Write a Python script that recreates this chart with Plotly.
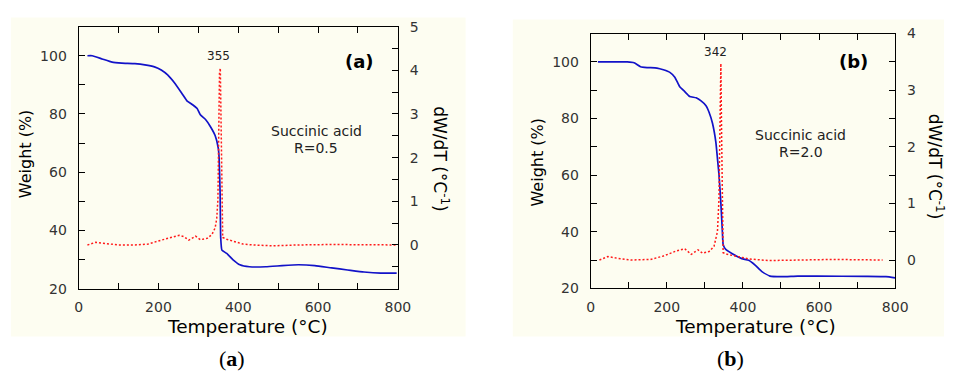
import plotly.graph_objects as go

# ---- Panel (a): succinic acid, R = 0.5 ----
temp_a_w = [22, 34, 59, 84, 108, 141, 166, 190, 207, 223, 240, 260, 272, 281, 297, 305, 318,
            330, 342, 350, 352, 354.5, 356, 359, 371, 387, 404, 428, 469, 510, 551, 592, 634,
            674, 715, 757, 797]
weight_a = [100, 100, 98.9, 97.8, 97.5, 97.3, 96.9, 96.2, 95.1, 93.4, 90.7, 86.8, 84.4, 83.6,
            81.9, 79.7, 78.1, 75.7, 72.6, 68.2, 64.9, 52.9, 37.5, 33.2, 32.1, 29.9, 28.2, 27.5,
            27.5, 27.9, 28.2, 27.9, 27.1, 26.4, 25.7, 25.3, 25.3]
temp_a_d = [22, 43, 59, 100, 141, 174, 207, 231, 252, 264, 276, 293, 305, 322, 334, 342, 346,
            349, 350, 353, 355, 357, 359, 361, 371, 387, 412, 437, 486, 551, 634, 797]
dtg_a = [0.0, 0.06, 0.04, 0.0, 0.0, 0.02, 0.11, 0.17, 0.22, 0.19, 0.11, 0.2, 0.12, 0.15, 0.24,
         0.39, 0.6, 1.04, 2.13, 3.95, 4.05, 2.5, 1.04, 0.17, 0.13, 0.09, 0.02, 0.0, -0.02, 0.0,
         0.01, 0.0]

# ---- Panel (b): succinic acid, R = 2.0 ----
temp_b_w = [19, 96, 114, 131, 148, 174, 191, 208, 221, 234, 247, 260, 277, 290, 303, 311, 320,
            329, 333, 337, 342, 346, 348, 354, 372, 397, 415, 432, 449, 471, 501, 544, 595,
            724, 776, 800]
weight_b = [100, 100, 99.7, 98.3, 98.0, 97.8, 97.2, 96.3, 94.6, 91.2, 89.5, 87.8, 87.3, 86.2,
            84.5, 82.2, 78.3, 71.5, 65.9, 60.3, 50.2, 40.0, 35.5, 33.9, 32.2, 30.5, 29.9, 28.2,
            26.0, 24.3, 24.1, 24.3, 24.3, 24.2, 24.1, 23.7]
temp_b_d = [23, 45, 71, 105, 157, 191, 225, 247, 264, 282, 294, 311, 324, 333, 337, 340, 342,
            344, 346, 348, 359, 380, 415, 466, 552, 638, 767]
dtg_b = [0.0, 0.06, 0.03, 0.0, 0.01, 0.07, 0.16, 0.2, 0.1, 0.18, 0.12, 0.15, 0.24, 0.5, 1.07,
         2.78, 3.47, 2.2, 1.07, 0.13, 0.1, 0.07, 0.02, -0.01, 0.0, 0.01, 0.0]

# labelled tick steps and the minor steps between them
x_step, x_minor = 200, 100
w_step, w_minor = 20, 10
d_step, d_minor = 1, 0.5

W, H = 957, 378
SANS = "DejaVu Sans"
BLUE = "#1212c8"
RED = "#ff1a1a"


def px(x):
    return x / W


def py(y):
    return 1 - y / H


fig = go.Figure()

fig.add_trace(go.Scatter(x=temp_a_w, y=weight_a, mode="lines", xaxis="x", yaxis="y",
                         line=dict(color=BLUE, width=1.7, shape="spline", smoothing=0.4)))
fig.add_trace(go.Scatter(x=temp_a_d, y=dtg_a, mode="lines", xaxis="x", yaxis="y2",
                         line=dict(color=RED, width=1.5, dash="2px,2px")))
fig.add_trace(go.Scatter(x=temp_b_w, y=weight_b, mode="lines", xaxis="x2", yaxis="y3",
                         line=dict(color=BLUE, width=1.7, shape="spline", smoothing=0.4)))
fig.add_trace(go.Scatter(x=temp_b_d, y=dtg_b, mode="lines", xaxis="x2", yaxis="y4",
                         line=dict(color=RED, width=1.5, dash="2px,2px")))

tick_font = dict(family=SANS, size=14, color="#333333")
common = dict(showgrid=False, zeroline=False, showline=True, linecolor="black", linewidth=1,
              ticks="inside", ticklen=6, tickcolor="black", tickfont=tick_font, fixedrange=True)


def minor(step):
    return dict(ticks="inside", ticklen=6, tickcolor="black", dtick=step, showgrid=False)


fig.update_layout(
    width=W, height=H,
    margin=dict(l=0, r=0, t=0, b=0),
    paper_bgcolor="white",
    plot_bgcolor="rgba(0,0,0,0)",
    showlegend=False,
    xaxis=dict(domain=[px(76), px(401)], anchor="y", range=[0, 800], tick0=0, dtick=x_step,
               minor=minor(x_minor), mirror="ticks", ticklabelstandoff=6, **common),
    yaxis=dict(domain=[py(293), py(19.5)], anchor="x", range=[20, 110], tick0=0, dtick=w_step,
               minor=minor(w_minor), ticklabelstandoff=8, **common),
    yaxis2=dict(overlaying="y", anchor="x", side="right", range=[-1, 5], tick0=0, dtick=d_step,
                minor=minor(d_minor), ticklabelstandoff=8, **common),
    xaxis2=dict(domain=[px(597.3), px(907.3)], anchor="y3", range=[0, 800], tick0=0, dtick=x_step,
                minor=minor(x_minor), mirror="ticks", ticklabelstandoff=6, **common),
    yaxis3=dict(domain=[py(292.7), py(26.7)], anchor="x2", range=[20, 110], tick0=0, dtick=w_step,
                minor=minor(w_minor), ticklabelstandoff=8, **common),
    yaxis4=dict(overlaying="y3", anchor="x2", side="right", range=[-0.5, 4], tick0=0, dtick=d_step,
                minor=minor(d_minor), ticklabelstandoff=8, **common),
)
# the bottom label of the first derivative axis is not printed
fig.update_layout(yaxis2=dict(tickvals=[0, 1, 2, 3, 4, 5]))

# cream panels behind each chart
fig.add_shape(type="rect", xref="paper", yref="paper", x0=px(7), x1=px(470), y0=py(343), y1=py(10),
              fillcolor="#fdfdf1", line=dict(width=0), layer="below")
fig.add_shape(type="rect", xref="paper", yref="paper", x0=px(518), x1=1, y0=py(343), y1=py(12),
              fillcolor="#fdfdf1", line=dict(width=0), layer="below")

ann = []


def label(text, x, y, size, angle=0, family=SANS, color="black", xref="paper", yref="paper"):
    ann.append(dict(text=text, x=x, y=y, xref=xref, yref=yref, showarrow=False, textangle=angle,
                    xanchor="center", yanchor="middle", font=dict(family=family, size=size, color=color)))


# axis titles
label("Weight (%)", px(22), py(152), 16, -90)
label("Temperature (°C)", px(248), py(333), 18.5)
label("dW/dT (°C<sup>-1</sup>)", px(445), py(157), 17, 90)
label("Weight (%)", px(543), py(161), 16, -90)
label("Temperature (°C)", px(765), py(333), 18.5)
label("dW/dT (°C<sup>-1</sup>)", px(949), py(165), 17, 90)

# panel texts
label("355", 350, 100, 12, xref="x", yref="y", color="#222222")
label("<b>(a)</b>", 703, 98, 18, xref="x", yref="y")
label("Succinic acid", 596, 74.3, 14, xref="x", yref="y", color="#222222")
label("R=0.5", 596, 68.4, 14, xref="x", yref="y", color="#222222")
label("342", 329, 103.6, 12, xref="x2", yref="y3", color="#222222")
label("<b>(b)</b>", 690, 100.2, 18, xref="x2", yref="y3")
label("Succinic acid", 551.5, 74.2, 14, xref="x2", yref="y3", color="#222222")
label("R=2.0", 551.5, 68.1, 14, xref="x2", yref="y3", color="#222222")

# captions
label("(<b>a</b>)", px(232), py(366), 22, family="Liberation Serif")
label("(<b>b</b>)", px(740), py(366), 22, family="Liberation Serif")

fig.update_layout(annotations=ann)

fig.write_html("out.html")
